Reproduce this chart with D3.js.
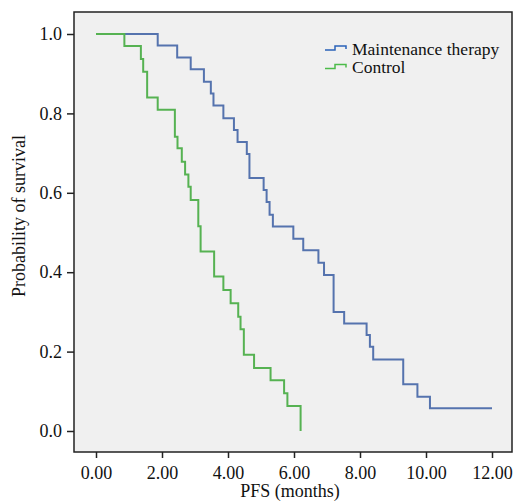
<!DOCTYPE html>
<html>
<head>
<meta charset="utf-8">
<script src="https://cdn.jsdelivr.net/npm/d3@7"></script>
<style>
  body { margin: 0; background: #fff; }
  text { font-family: "Liberation Serif", "DejaVu Serif", serif; fill: #111; }
</style>
</head>
<body>
<svg id="chart" width="515" height="501"></svg>
<script>
// survival steps
const maintTimes = [0, 1.87, 2.46, 2.87, 3.27, 3.48, 3.56, 3.86, 4.18, 4.29, 4.57, 4.65, 5.08, 5.17, 5.26, 5.36, 5.98, 6.28, 6.74, 6.91, 7.20, 7.52, 8.20, 8.30, 8.40, 9.31, 9.74, 10.12, 12.0]
const maintSurv  = [1.0, 0.971, 0.941, 0.911, 0.880, 0.850, 0.820, 0.788, 0.758, 0.728, 0.698, 0.637, 0.607, 0.577, 0.545, 0.515, 0.484, 0.455, 0.424, 0.393, 0.300, 0.271, 0.242, 0.212, 0.180, 0.118, 0.086, 0.057, 0.057]
const controlTimes = [0, 0.86, 1.36, 1.43, 1.55, 1.87, 2.39, 2.47, 2.60, 2.70, 2.80, 2.87, 3.10, 3.17, 3.58, 3.86, 4.08, 4.31, 4.38, 4.48, 4.79, 5.29, 5.70, 5.80, 6.20]
const controlSurv  = [1.0, 0.970, 0.937, 0.905, 0.840, 0.809, 0.741, 0.712, 0.678, 0.646, 0.615, 0.582, 0.516, 0.452, 0.389, 0.355, 0.322, 0.288, 0.256, 0.192, 0.159, 0.128, 0.095, 0.063, 0.0]
const xTicks = [0, 2, 4, 6, 8, 10, 12]
const yTicks = [0, 0.2, 0.4, 0.6, 0.8, 1.0]
const seriesNames = ["Maintenance therapy", "Control"]
const lineColors = ["#5573ae", "#56b252"]
const legendColors = ["#2a62b8", "#4cbb4a"]

const FONT = "Liberation Serif, DejaVu Serif, serif"
const svg = d3.select("#chart")
const frame = {left: 74, right: 512, top: 12, bottom: 452}

const x = d3.scaleLinear().domain([0, 12]).range([96, 492])
const y = d3.scaleLinear().domain([0, 1]).range([431, 34])

svg.append("rect")
  .attr("x", frame.left).attr("y", frame.top)
  .attr("width", frame.right - frame.left).attr("height", frame.bottom - frame.top)
  .attr("fill", "#f0f0f0").attr("stroke", "#222").attr("stroke-width", 1.5)

// axes
const xAxis = svg.append("g")
  .attr("transform", `translate(0,${frame.bottom})`)
  .call(d3.axisBottom(x).tickValues(xTicks).tickFormat(d3.format(".2f")).tickSize(6).tickPadding(8))
xAxis.select(".domain").remove()
xAxis.selectAll("line").attr("stroke", "#222").attr("stroke-width", 1.5)
xAxis.selectAll("text").attr("font-size", 18).attr("font-family", FONT).attr("fill", "#111")

const yAxis = svg.append("g")
  .attr("transform", `translate(${frame.left},0)`)
  .call(d3.axisLeft(y).tickValues(yTicks).tickFormat(d3.format(".1f")).tickSize(7).tickPadding(5))
yAxis.select(".domain").remove()
yAxis.selectAll("line").attr("stroke", "#222").attr("stroke-width", 1.5)
yAxis.selectAll("text").attr("font-size", 18).attr("font-family", FONT).attr("fill", "#111")

svg.append("text")
  .attr("x", 290).attr("y", 497)
  .attr("text-anchor", "middle").attr("font-size", 18).attr("font-family", FONT)
  .text("PFS (months)")

svg.append("text")
  .attr("transform", "translate(25,216) rotate(-90)")
  .attr("text-anchor", "middle").attr("font-size", 18).attr("font-family", FONT)
  .text("Probability of survival")

// curves
const step = d3.line()
  .x(d => x(d[0]))
  .y(d => y(d[1]))
  .curve(d3.curveStepAfter)

const series = [
  d3.zip(maintTimes, maintSurv),
  d3.zip(controlTimes, controlSurv)
]

series.forEach((pts, i) => {
  svg.append("path")
    .datum(pts)
    .attr("d", step)
    .attr("fill", "none")
    .attr("stroke", lineColors[i])
    .attr("stroke-width", 2)
})

// legend
const legend = svg.append("g").attr("transform", "translate(325,50)")
seriesNames.forEach((name, i) => {
  const g = legend.append("g").attr("transform", `translate(0,${i * 18.5})`)
  g.append("path")
    .attr("d", "M0,0 H10 V-4 H21 V-1")
    .attr("fill", "none")
    .attr("stroke", legendColors[i])
    .attr("stroke-width", 1.5)
  g.append("text")
    .attr("x", 27).attr("y", 4.5)
    .attr("font-size", 17.5).attr("font-family", FONT)
    .text(name)
})
</script>
</body>
</html>
